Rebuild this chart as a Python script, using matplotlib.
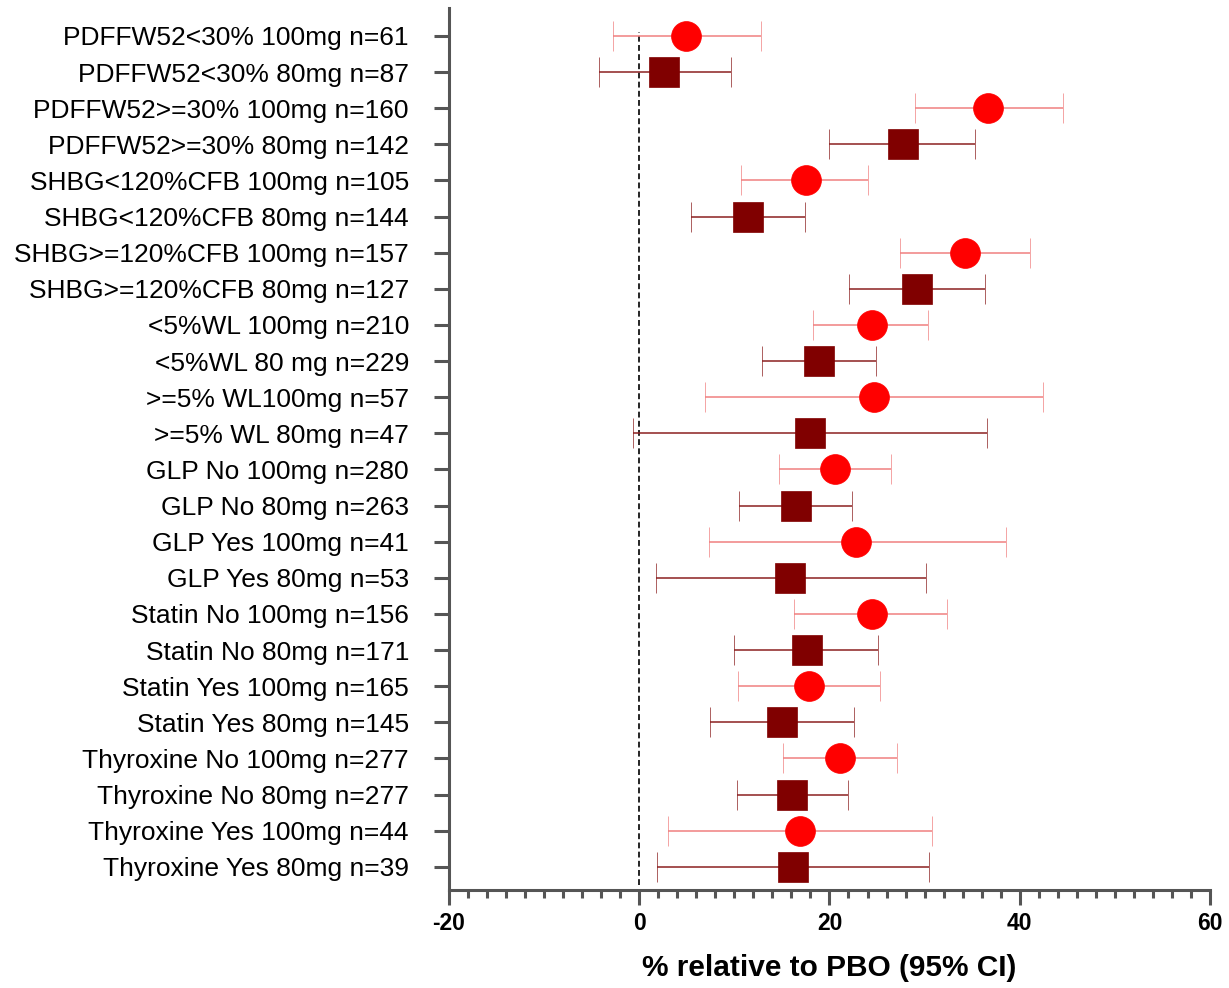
import matplotlib.pyplot as plt
import numpy as np
from matplotlib.ticker import MultipleLocator

plt.rcParams['font.family'] = ['Liberation Sans', 'DejaVu Sans']
plt.rcParams['axes.unicode_minus'] = False

labels = ['PDFFW52<30% 100mg n=61', 'PDFFW52<30% 80mg n=87',
          'PDFFW52>=30% 100mg n=160', 'PDFFW52>=30% 80mg n=142',
          'SHBG<120%CFB 100mg n=105', 'SHBG<120%CFB 80mg n=144',
          'SHBG>=120%CFB 100mg n=157', 'SHBG>=120%CFB 80mg n=127',
          '<5%WL 100mg n=210', '<5%WL 80 mg n=229',
          '>=5% WL100mg n=57', '>=5% WL 80mg n=47',
          'GLP No 100mg n=280', 'GLP No 80mg n=263',
          'GLP Yes 100mg n=41', 'GLP Yes 80mg n=53',
          'Statin No 100mg n=156', 'Statin No 80mg n=171',
          'Statin Yes 100mg n=165', 'Statin Yes 80mg n=145',
          'Thyroxine No 100mg n=277', 'Thyroxine No 80mg n=277',
          'Thyroxine Yes 100mg n=44', 'Thyroxine Yes 80mg n=39']
est = [4.9, 2.6, 36.7, 27.7, 17.5, 11.4, 34.3, 29.2, 24.5, 18.9, 24.7, 18.0,
       20.6, 16.5, 22.8, 15.9, 24.5, 17.6, 17.9, 15.0, 21.1, 16.1, 16.9, 16.2]
lo = [-2.8, -4.2, 29.0, 19.9, 10.7, 5.4, 27.4, 22.1, 18.3, 12.9, 6.9, -0.6,
      14.7, 10.5, 7.3, 1.8, 16.3, 10.0, 10.4, 7.4, 15.1, 10.3, 3.0, 1.9]
hi = [12.8, 9.6, 44.5, 35.3, 24.1, 17.4, 41.1, 36.3, 30.4, 24.9, 42.4, 36.6,
      26.5, 22.4, 38.6, 30.1, 32.4, 25.1, 25.3, 22.6, 27.1, 22.0, 30.8, 30.5]

est = np.array(est); lo = np.array(lo); hi = np.array(hi)
ypos = np.arange(len(labels))

fig = plt.figure(figsize=(12.29, 9.88), dpi=100)
ax = fig.add_axes([0.3653, 0.0992, 0.6192, 0.8928])

ax.axvline(0, ymin=0.006, ymax=0.973, color='black', ls=(0, (3.5, 2)), lw=1.2, zorder=1)

for i in ypos:
    if i % 2 == 0:
        c, ec, m = '#FF0000', '#F08080', 'o'  # 100mg
    else:
        c, ec, m = '#800000', '#8B2020', 's'  # 80mg
    ax.errorbar(est[i], i, xerr=[[est[i] - lo[i]], [hi[i] - est[i]]],
                fmt=m, color=c, ecolor=ec, elinewidth=1.1, capsize=10.8,
                capthick=1.1, markersize=21.5, markeredgewidth=0.5,
                markeredgecolor=c, zorder=3)

ax.set_xlim(-20, 60)
ax.set_ylim(23.64, -0.775)
ax.set_yticks(ypos)
ax.set_yticklabels(labels, fontsize=19)
ax.xaxis.set_major_locator(MultipleLocator(20))
ax.xaxis.set_minor_locator(MultipleLocator(2))
for lab in ax.get_xticklabels():
    lab.set_fontweight('bold')
ax.tick_params(axis='x', labelsize=16.5, width=2.2, length=10.8, color='#555555', pad=5)
ax.tick_params(axis='x', which='minor', width=2.2, length=5.8, color='#555555')
ax.tick_params(axis='y', width=2.2, length=10.8, color='#555555', pad=18)
ax.set_xlabel('% relative to PBO (95% CI)', fontsize=21.5, fontweight='bold', labelpad=14)

for s in ['top', 'right']:
    ax.spines[s].set_visible(False)
for s in ['left', 'bottom']:
    ax.spines[s].set_linewidth(2.2)
    ax.spines[s].set_color('#555555')

fig.savefig('out.png', dpi=100)
